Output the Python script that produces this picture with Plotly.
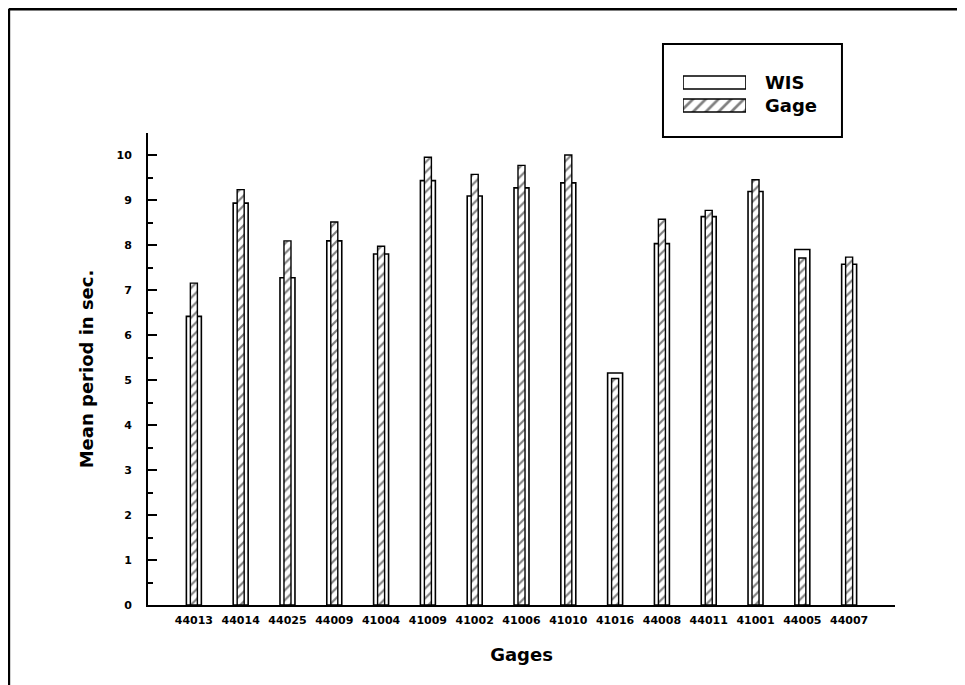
import plotly.graph_objects as go

# Mean wave period, WIS hindcast vs. buoy gage
gages = ["44013", "44014", "44025", "44009", "41004", "41009", "41002", "41006",
         "41010", "41016", "44008", "44011", "41001", "44005", "44007"]
wis = [6.42, 8.94, 7.28, 8.10, 7.81, 9.44, 9.10, 9.28, 9.39, 5.16, 8.04, 8.64, 9.20, 7.91, 7.58]
gage = [7.16, 9.24, 8.10, 8.52, 7.98, 9.96, 9.58, 9.78, 10.01, 5.04, 8.58, 8.78, 9.46, 7.72, 7.74]
series = ["WIS", "Gage"]

FONT = "DejaVu Sans, Liberation Sans, sans-serif"
wis_marker = dict(color="white", line=dict(color="black", width=1.6))
gage_marker = dict(
    color="white",
    line=dict(color="black", width=1.4),
    pattern=dict(shape="/", fgcolor="black", bgcolor="white", size=7, solidity=0.3),
)

fig = go.Figure()
fig.add_trace(go.Bar(x=gages, y=wis, name=series[0], width=0.32, marker=wis_marker))
fig.add_trace(go.Bar(x=gages, y=gage, name=series[1], width=0.15, marker=gage_marker))

# legend drawn as a tiny inset axis so the swatches get the wide look of the original
fig.add_trace(go.Bar(x=[1], y=[series[0]], orientation="h", width=0.57,
                     marker=wis_marker, xaxis="x2", yaxis="y2", hoverinfo="skip"))
fig.add_trace(go.Bar(x=[1], y=[series[1]], orientation="h", width=0.57,
                     marker=dict(gage_marker, pattern=dict(gage_marker["pattern"], size=9)),
                     xaxis="x2", yaxis="y2", hoverinfo="skip"))

# legend box + scanned page frame (top and left edges only)
fig.add_shape(type="rect", xref="paper", yref="paper",
              x0=0.6894, x1=0.929, y0=0.7839, y1=0.9397,
              line=dict(color="black", width=2))
frame = dict(type="line", xref="paper", yref="paper", line=dict(color="black", width=3))
fig.add_shape(**frame, x0=-0.1865, x1=1.094, y0=0.9985, y1=0.9985)
fig.add_shape(**frame, x0=-0.1865, x1=-0.1865, y0=0.9985, y1=-0.14)

fig.update_layout(
    width=957, height=677,
    margin=dict(l=140, r=70, t=0, b=80),
    barmode="overlay",
    paper_bgcolor="white", plot_bgcolor="white",
    font=dict(family=FONT, color="black"),
    showlegend=False,
    xaxis=dict(
        type="category", range=[-0.98, 14.98],
        showline=True, linecolor="black", linewidth=2,
        ticks="", showgrid=False, ticklabelstandoff=4,
        tickfont=dict(size=11, weight="bold"),
        title=dict(text="Gages", font=dict(size=18, weight="bold"), standoff=22),
    ),
    yaxis=dict(
        domain=[0, 0.7906], range=[0, 10.5], dtick=1, tick0=0,
        showline=True, linecolor="black", linewidth=2,
        ticks="inside", ticklen=9, tickwidth=2, tickcolor="black",
        minor=dict(ticks="inside", ticklen=5, tickwidth=1.5, dtick=0.5, tickcolor="black"),
        showgrid=False, zeroline=False, ticklabelstandoff=12,
        tickfont=dict(size=11, weight="bold"),
        title=dict(text="Mean period in sec.", font=dict(size=18, weight="bold"), standoff=18),
    ),
    xaxis2=dict(domain=[0.7162, 0.8005], range=[0, 1], anchor="y2",
                visible=False, fixedrange=True),
    yaxis2=dict(domain=[0.8174, 0.8945], range=[-0.5, 1.5], anchor="x2",
                type="category", categoryorder="array", categoryarray=series[::-1],
                side="right", showline=False, showgrid=False, zeroline=False,
                ticks="", ticklabelstandoff=18, fixedrange=True,
                tickfont=dict(size=18, weight="bold")),
)

fig.write_html("out.html")
